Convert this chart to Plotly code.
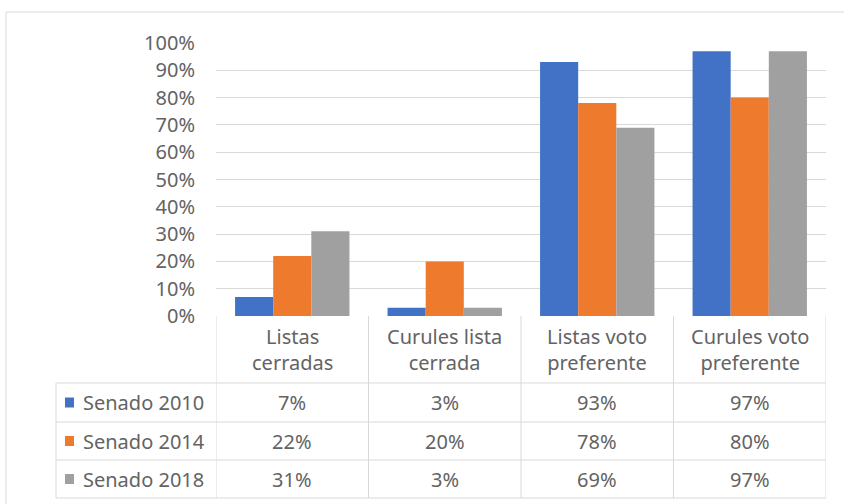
import plotly.graph_objects as go

categories = ["Listas<br>cerradas", "Curules lista<br>cerrada", "Listas voto<br>preferente", "Curules voto<br>preferente"]
series_names = ["Senado 2010", "Senado 2014", "Senado 2018"]
senado_2010 = [0.07, 0.03, 0.93, 0.97]
senado_2014 = [0.22, 0.20, 0.78, 0.80]
senado_2018 = [0.31, 0.03, 0.69, 0.97]
colors = ["#4272C6", "#EE7A2E", "#A0A0A0"]

W, H = 844, 504
def px(x):
    return x / W
def py(y):
    return 1 - y / H

TXT = "#636363"
GRID = "#D9D9D9"
FONT = "Noto Sans"
FS = 20

fig = go.Figure()
xs = list(range(len(categories)))
for name, vals, c in zip(series_names, [senado_2010, senado_2014, senado_2018], colors):
    fig.add_trace(go.Bar(x=xs, y=vals, name=name, marker=dict(color=c, line=dict(width=0)),
                         hoverinfo="y"))

shapes = []
annotations = []
# outer frame (extends past right/bottom edges as in the reference)
shapes.append(dict(type="line", xref="paper", yref="paper", x0=px(6), x1=1,
                   y0=py(12), y1=py(12), line=dict(color=GRID, width=1)))
shapes.append(dict(type="line", xref="paper", yref="paper", x0=px(6), x1=px(6),
                   y0=py(12), y1=0, line=dict(color=GRID, width=1)))

# table geometry (pixels)
header_top, header_bot = 316, 383
row_bounds = [383, 422, 460, 498]
left_x = 56
for yb in row_bounds:
    shapes.append(dict(type="line", xref="paper", yref="paper", x0=px(left_x), x1=px(826),
                       y0=py(yb), y1=py(yb), line=dict(color=GRID, width=1)))
for i in range(len(categories) + 1):
    shapes.append(dict(type="line", xref="x", yref="paper", x0=i - 0.5, x1=i - 0.5,
                       y0=py(header_top), y1=py(498), line=dict(color=GRID, width=1)))
shapes.append(dict(type="line", xref="paper", yref="paper", x0=px(left_x), x1=px(left_x),
                   y0=py(383), y1=py(498), line=dict(color=GRID, width=1)))

for i, cat in enumerate(categories):
    annotations.append(dict(x=i, xref="x", y=py((header_top + header_bot) / 2), yref="paper",
                            text=cat, showarrow=False, font=dict(family=FONT, size=FS, color=TXT),
                            xanchor="center", yanchor="middle", align="center"))

for r, (name, vals, c) in enumerate(zip(series_names, [senado_2010, senado_2014, senado_2018], colors)):
    yc = (row_bounds[r] + row_bounds[r + 1]) / 2
    shapes.append(dict(type="rect", xref="paper", yref="paper", x0=px(65), x1=px(74),
                       y0=py(yc + 5), y1=py(yc - 5), fillcolor=c, line=dict(width=0)))
    annotations.append(dict(x=px(81), xref="paper", y=py(yc), yref="paper", text=name,
                            showarrow=False, xanchor="left", yanchor="middle",
                            font=dict(family=FONT, size=FS, color=TXT)))
    for i, v in enumerate(vals):
        annotations.append(dict(x=i, xref="x", y=py(yc), yref="paper", text=f"{round(v*100)}%",
                                showarrow=False, xanchor="center", yanchor="middle",
                                font=dict(family=FONT, size=FS, color=TXT)))

fig.update_layout(
    width=W, height=H,
    margin=dict(l=0, r=0, t=0, b=0, pad=0, autoexpand=False),
    paper_bgcolor="white", plot_bgcolor="white",
    showlegend=False,
    barmode="group", bargap=0.25, bargroupgap=0,
    xaxis=dict(domain=[px(216), px(826)], range=[-0.5, 3.5], showticklabels=False,
               showgrid=False, zeroline=False, showline=False, fixedrange=True, automargin=False),
    yaxis=dict(domain=[py(316), py(43)], range=[0, 1], dtick=0.1, tickformat=".0%",
               showgrid=True, gridcolor=GRID, gridwidth=1, zeroline=False, showline=False,
               ticks="", ticklabelstandoff=20, automargin=False,
               tickfont=dict(family=FONT, size=FS, color=TXT)),
    shapes=shapes, annotations=annotations,
)

fig.write_html("out.html", config={"displayModeBar": False},
               post_script="document.body.style.margin='0';document.body.style.overflow='hidden';")
